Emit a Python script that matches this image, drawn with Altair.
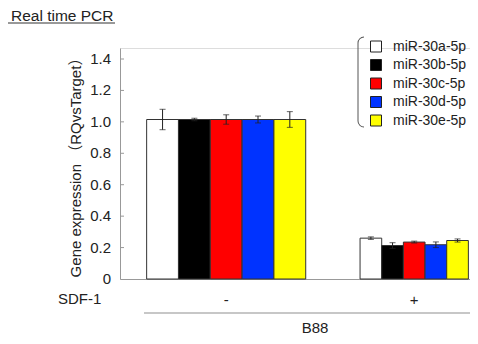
import altair as alt
import pandas as pd

# ---- data ----
series = ["miR-30a-5p", "miR-30b-5p", "miR-30c-5p", "miR-30d-5p", "miR-30e-5p"]
colors = ["#FFFFFF", "#000000", "#FF0000", "#0033FF", "#FFFF00"]
groups = ["-", "+"]
values_minus = [1.015, 1.015, 1.015, 1.015, 1.015]
err_minus = [0.065, 0.008, 0.03, 0.022, 0.05]
values_plus = [0.26, 0.213, 0.235, 0.218, 0.245]
err_plus = [0.008, 0.018, 0.006, 0.018, 0.01]
yticks = [0, 0.2, 0.4, 0.6, 0.8, 1.0, 1.2, 1.4]
ytick_labels = ["0", "0.2", "0.4", "0.6", "0.8", "1.0", "1.2", "1.4"]

chart_title = "Real time PCR"
y_title = "Gene expression （RQvsTarget）"
row_label = "SDF-1"
cell_line = "B88"

# ---- layout (percent of axis width) ----
group_center = [30.34, 84.06]
bar_width = [9.09, 6.19]

rows = []
for gi, (g, vals, errs) in enumerate([(groups[0], values_minus, err_minus),
                                       (groups[1], values_plus, err_plus)]):
    w = bar_width[gi]
    for si, s in enumerate(series):
        left = group_center[gi] + (si - 2.5) * w
        v, e = vals[si], errs[si]
        rows.append(dict(group=g, series=s, value=v, base=0.0, x0=left, x1=left + w,
                         xc=left + w / 2, lo=v - e, hi=v + e))
df = pd.DataFrame(rows)
gdf = pd.DataFrame({"group": groups, "center": group_center})
tdf = pd.DataFrame({"t": yticks, "lab": ytick_labels})
one = pd.DataFrame({"a": [0]})

W, H = 350, 231
FONT = "Liberation Sans, Arial, Noto Sans CJK JP, sans-serif"
xscale = alt.Scale(domain=[0, 100], nice=False, zero=False)
yscale = alt.Scale(domain=[0, 1.47], nice=False)

base = alt.Chart(df)
bars = base.mark_bar(stroke="#333333", strokeWidth=1).encode(
    x=alt.X("x0:Q", scale=xscale,
            axis=alt.Axis(labels=False, ticks=False, grid=False, title=None,
                          domainColor="#999999", domainWidth=1)),
    x2="x1:Q",
    y=alt.Y("value:Q", scale=yscale,
            axis=alt.Axis(labels=False, grid=False, ticks=False,
                          domainColor="#999999", domainWidth=1,
                          title=y_title, titleX=-45, titleY=H / 2, titleAngle=270,
                          titleAlign="center", titleBaseline="middle",
                          titleFontWeight="normal", titleFontSize=15,
                          titleColor="#222222", titleFont=FONT)),
    y2="base:Q",
    fill=alt.Fill("series:N", scale=alt.Scale(domain=series, range=colors),
                  legend=alt.Legend(orient="none", legendX=249, legendY=-8.5,
                                    title=None, symbolType="square", symbolSize=121,
                                    symbolStrokeColor="#222222", symbolStrokeWidth=1,
                                    labelFontSize=14, labelFont=FONT, labelColor="#222222",
                                    labelOffset=10, rowPadding=2.5, padding=0)),
)

err = base.mark_rule(color="#222222", strokeWidth=1).encode(
    x="xc:Q", y="lo:Q", y2="hi:Q")
cap_lo = base.mark_tick(orient="horizontal", size=6, thickness=1, color="#222222").encode(
    x="xc:Q", y="lo:Q")
cap_hi = base.mark_tick(orient="horizontal", size=6, thickness=1, color="#222222").encode(
    x="xc:Q", y="hi:Q")

inticks = alt.Chart(tdf).transform_filter("datum.t > 0").mark_rule(
    color="#999999", strokeWidth=1).encode(
    y="t:Q", x=alt.value(0), x2=alt.value(4))
ylabels = alt.Chart(tdf).mark_text(fontSize=15, font=FONT, color="#222222",
                                   align="right", baseline="middle").encode(
    y="t:Q", x=alt.value(-9), text="lab:N")

glabels = alt.Chart(gdf).mark_text(fontSize=15, font=FONT, color="#222222",
                                   baseline="middle").encode(
    x="center:Q", y=alt.value(252), text="group:N")

o = alt.Chart(one)
title_t = o.mark_text(fontSize=15.5, font=FONT, color="#222222", align="left",
                      baseline="alphabetic").encode(
    x=alt.value(-109), y=alt.value(-27), text=alt.value(chart_title))
underline = o.mark_rule(color="#333333", strokeWidth=1).encode(
    x=alt.value(-113), x2=alt.value(-5), y=alt.value(-25))
sdf = o.mark_text(fontSize=15, font=FONT, color="#222222", align="left",
                  baseline="middle").encode(
    x=alt.value(-62), y=alt.value(251), text=alt.value(row_label))
greyline = o.mark_rule(color="#b4b4b4", strokeWidth=1.5).encode(
    x=alt.value(24), x2=alt.value(350), y=alt.value(265))
b88 = o.mark_text(fontSize=15, font=FONT, color="#222222", baseline="middle").encode(
    x=alt.value(195), y=alt.value(280), text=alt.value(cell_line))

br_line = o.mark_rule(color="#555555", strokeWidth=1).encode(
    x=alt.value(238), y=alt.value(-5), y2=alt.value(73))
br_top = o.mark_arc(radius=6.5, radius2=5.5, theta=4.71239, theta2=6.28318,
                    color="#555555").encode(x=alt.value(244), y=alt.value(-5))
br_bot = o.mark_arc(radius=6.5, radius2=5.5, theta=3.14159, theta2=4.71239,
                    color="#555555").encode(x=alt.value(244), y=alt.value(73))

chart = alt.layer(
    bars, err, cap_lo, cap_hi, inticks, ylabels, glabels,
    title_t, underline, sdf, greyline, b88, br_line, br_top, br_bot
).properties(
    width=W, height=H,
    autosize=alt.AutoSizeParams(type="none"),
    padding={"left": 112, "top": 40, "right": 0, "bottom": 56},
).configure_view(stroke=None).configure(font=FONT).configure_axis(grid=False)

chart.save("out.html", embed_options={"renderer": "svg", "actions": False})
